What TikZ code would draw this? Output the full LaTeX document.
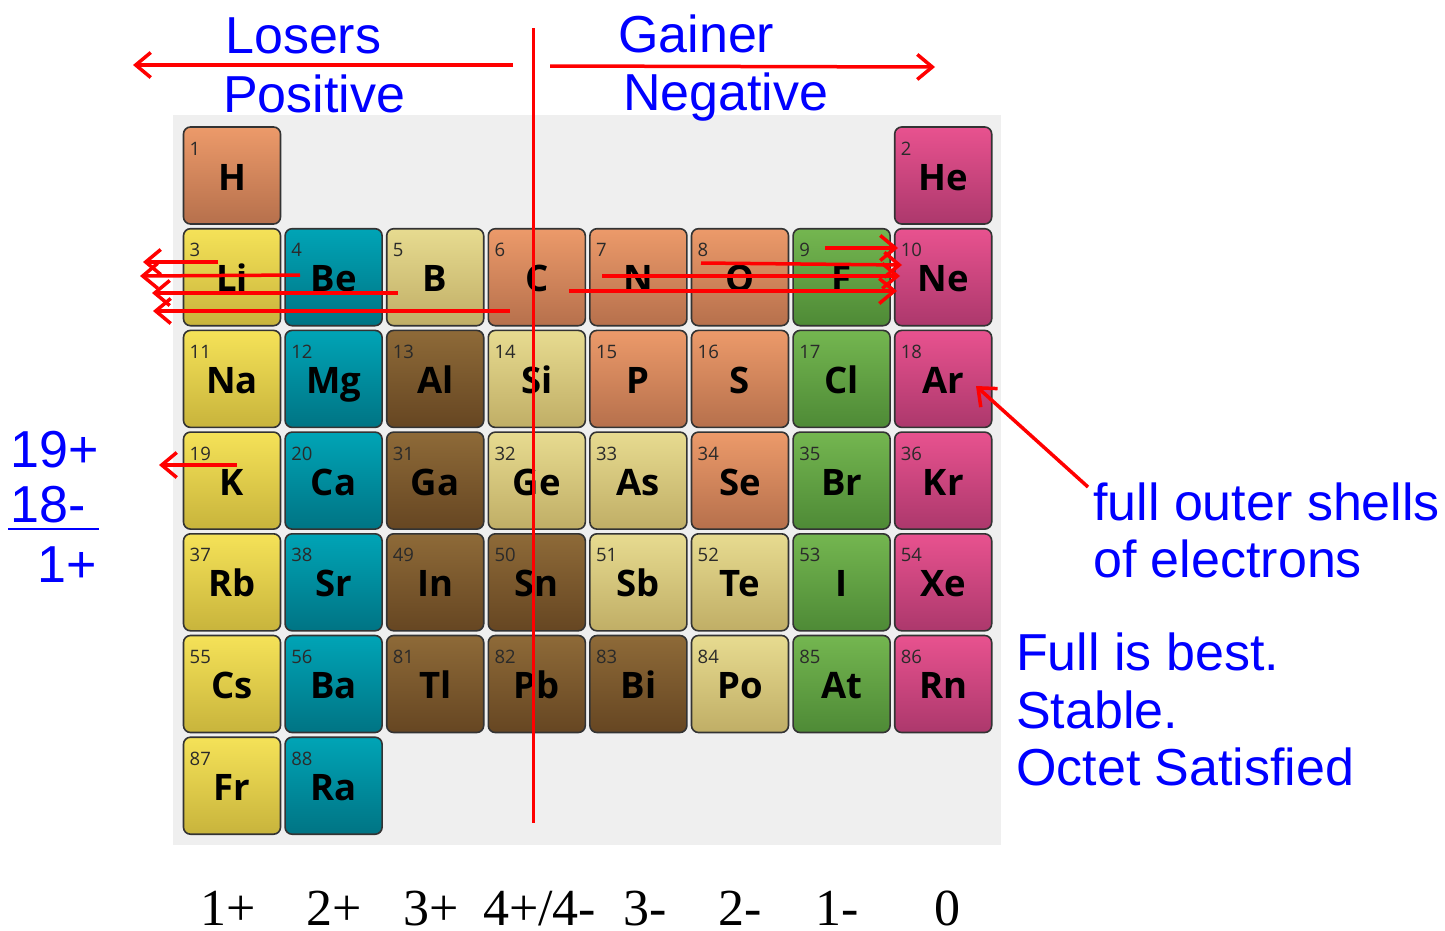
\documentclass[tikz,border=0pt]{standalone}
\usepackage{fontspec}
\setmainfont{Liberation Sans}
\newfontfamily\symf{Open Sans}
\newfontfamily\serf{Liberation Serif}
\usetikzlibrary{arrows.meta}
\definecolor{bgrey}{HTML}{EFEFEF}
\definecolor{tborder}{HTML}{333333}
\definecolor{numcol}{HTML}{2A2A2A}
\definecolor{pureblue}{HTML}{0000FF}
\definecolor{purered}{HTML}{FF0000}
\definecolor{alkT}{HTML}{F5E258}\definecolor{alkB}{HTML}{C8B43C}
\definecolor{aeT}{HTML}{00A4B6}\definecolor{aeB}{HTML}{007484}
\definecolor{mdT}{HTML}{E7DB90}\definecolor{mdB}{HTML}{C0AE66}
\definecolor{nmT}{HTML}{EC9A6A}\definecolor{nmB}{HTML}{B6704C}
\definecolor{halT}{HTML}{74B650}\definecolor{halB}{HTML}{4E8A36}
\definecolor{ngT}{HTML}{E8528F}\definecolor{ngB}{HTML}{AC386C}
\definecolor{ptmT}{HTML}{8E6A38}\definecolor{ptmB}{HTML}{664622}
\tikzset{
  tile/.style={draw=tborder, line width=1.6pt, rounded corners=7pt, minimum width=97pt, minimum height=97pt, inner sep=0pt},
  cat-alk/.style={top color=alkT, bottom color=alkB},
  cat-ae/.style={top color=aeT, bottom color=aeB},
  cat-md/.style={top color=mdT, bottom color=mdB},
  cat-nm/.style={top color=nmT, bottom color=nmB},
  cat-hal/.style={top color=halT, bottom color=halB},
  cat-ng/.style={top color=ngT, bottom color=ngB},
  cat-ptm/.style={top color=ptmT, bottom color=ptmB},
  symtext/.style={anchor=base, inner sep=0pt, font=\symf\bfseries\fontsize{36.5}{36.5}\selectfont, text=black},
  numtext/.style={anchor=base west, inner sep=0pt, font=\symf\fontsize{18.5}{18.5}\selectfont, text=numcol},
  bluetext/.style={anchor=base west, inner sep=0pt, font=\fontsize{52}{57}\selectfont, text=pureblue},
  chargetext/.style={anchor=base west, inner sep=0pt, font=\serf\fontsize{52}{52}\selectfont, text=black},
  redline/.style={draw=purered, line width=3.5pt},
  redarrow/.style={draw=purered, line width=3.5pt, -{Straight Barb[length=15pt,width=25pt,line width=3.5pt]}},
}
\begin{document}
\begin{tikzpicture}[x=1pt,y=-1pt]
\useasboundingbox (0,0) rectangle (1445,930);
\fill[bgrey] (173,115) rectangle (1001,845);
\foreach \cx/\ry/\enum/\esym/\ecat in {
 1/1/1/H/nm, 8/1/2/He/ng,
 1/2/3/Li/alk, 2/2/4/Be/ae, 3/2/5/B/md, 4/2/6/C/nm, 5/2/7/N/nm, 6/2/8/O/nm, 7/2/9/F/hal, 8/2/10/Ne/ng,
 1/3/11/Na/alk, 2/3/12/Mg/ae, 3/3/13/Al/ptm, 4/3/14/Si/md, 5/3/15/P/nm, 6/3/16/S/nm, 7/3/17/Cl/hal, 8/3/18/Ar/ng,
 1/4/19/K/alk, 2/4/20/Ca/ae, 3/4/31/Ga/ptm, 4/4/32/Ge/md, 5/4/33/As/md, 6/4/34/Se/nm, 7/4/35/Br/hal, 8/4/36/Kr/ng,
 1/5/37/Rb/alk, 2/5/38/Sr/ae, 3/5/49/In/ptm, 4/5/50/Sn/ptm, 5/5/51/Sb/md, 6/5/52/Te/md, 7/5/53/I/hal, 8/5/54/Xe/ng,
 1/6/55/Cs/alk, 2/6/56/Ba/ae, 3/6/81/Tl/ptm, 4/6/82/Pb/ptm, 5/6/83/Bi/ptm, 6/6/84/Po/md, 7/6/85/At/hal, 8/6/86/Rn/ng,
 1/7/87/Fr/alk, 2/7/88/Ra/ae}
{
  \pgfmathsetmacro{\lx}{183.5+(\cx-1)*101.6}
  \pgfmathsetmacro{\ty}{127+(\ry-1)*101.7}
  \pgfmathsetmacro{\mx}{\lx+48.5}
  \pgfmathsetmacro{\my}{\ty+48.5}
  \pgfmathsetmacro{\nx}{\lx+6}
  \pgfmathsetmacro{\ny}{\ty+28}
  \pgfmathsetmacro{\sy}{\ty+63}
  \node[tile, cat-\ecat] (el\esym) at (\mx,\my) {};
  \node[numtext] (n\esym) at (\nx,\ny) {\enum};
  \node[symtext] (s\esym) at (\mx,\sy) {\esym};
}
% top labels and arrows
\node[bluetext] (losers) at (225,53) {Losers};
\node[bluetext] (positive) at (223,112) {Positive};
\node[bluetext] (gainer) at (618,52) {Gainer};
\node[bluetext] (negative) at (623,110) {Negative};
\coordinate (la0) at (513,65); \coordinate (la1) at (133,65);
\coordinate (ra0) at (550,66); \coordinate (ra1) at (935,67);
\coordinate (vl0) at (533.5,28); \coordinate (vl1) at (533.5,823);
\draw[redline] (vl0) -- (vl1);
\draw[redarrow] (la0) -- (la1);
\draw[redarrow] (ra0) -- (ra1);
% Li row arrows
\coordinate (l1a) at (218,262); \coordinate (l1b) at (143,262);
\coordinate (l2a) at (300,275); \coordinate (l2b) at (140,276);
\coordinate (l3a) at (398,293); \coordinate (l3b) at (152,293);
\coordinate (l4a) at (510,311); \coordinate (l4b) at (153,311);
\draw[redarrow] (l1a) -- (l1b);
\draw[redarrow] (l2a) -- (l2b);
\draw[redarrow] (l3a) -- (l3b);
\draw[redarrow] (l4a) -- (l4b);
% F row arrows
\coordinate (r1a) at (825,248); \coordinate (r1b) at (898,248);
\coordinate (r2a) at (701,263); \coordinate (r2b) at (902,265);
\coordinate (r3a) at (602,276); \coordinate (r3b) at (900,276);
\coordinate (r4a) at (569,291); \coordinate (r4b) at (897,291);
\draw[redarrow] (r1a) -- (r1b);
\draw[redarrow] (r2a) -- (r2b);
\draw[redarrow] (r3a) -- (r3b);
\draw[redarrow] (r4a) -- (r4b);
% K arrow
\coordinate (k0) at (237,465); \coordinate (k1) at (159,465);
\draw[redarrow] (k0) -- (k1);
% left fraction
\node[bluetext] (t19) at (10,467) {19+};
\node[bluetext] (t18) at (10,522) {18-};
\node[bluetext, anchor=base east] (t1) at (97,582) {1+};
\coordinate (fr0) at (8,529); \coordinate (fr1) at (99,529);
\draw[draw=pureblue, line width=2.5pt] (fr0) -- (fr1);
% right texts
\node[bluetext] (full1) at (1093,520) {full outer shells};
\node[bluetext] (full2) at (1093,577) {of electrons};
\coordinate (ar0) at (1088,487);
\coordinate (ar1) at (976,386);
\draw[redarrow] (ar0) -- (ar1);
\node[bluetext] (fb1) at (1016,670) {Full is best.};
\node[bluetext] (fb2) at (1016,728) {Stable.};
\node[bluetext] (fb3) at (1016,785) {Octet Satisfied};
% charges
\node[chargetext] (c1) at (200,925) {1+};
\node[chargetext] (c2) at (306,925) {2+};
\node[chargetext] (c3) at (403,925) {3+};
\node[chargetext] (c4) at (483,925) {4+/4-};
\node[chargetext] (c5) at (623,925) {3-};
\node[chargetext] (c6) at (718,925) {2-};
\node[chargetext] (c7) at (815,925) {1-};
\node[chargetext] (c8) at (934,925) {0};
\end{tikzpicture}
\end{document}
